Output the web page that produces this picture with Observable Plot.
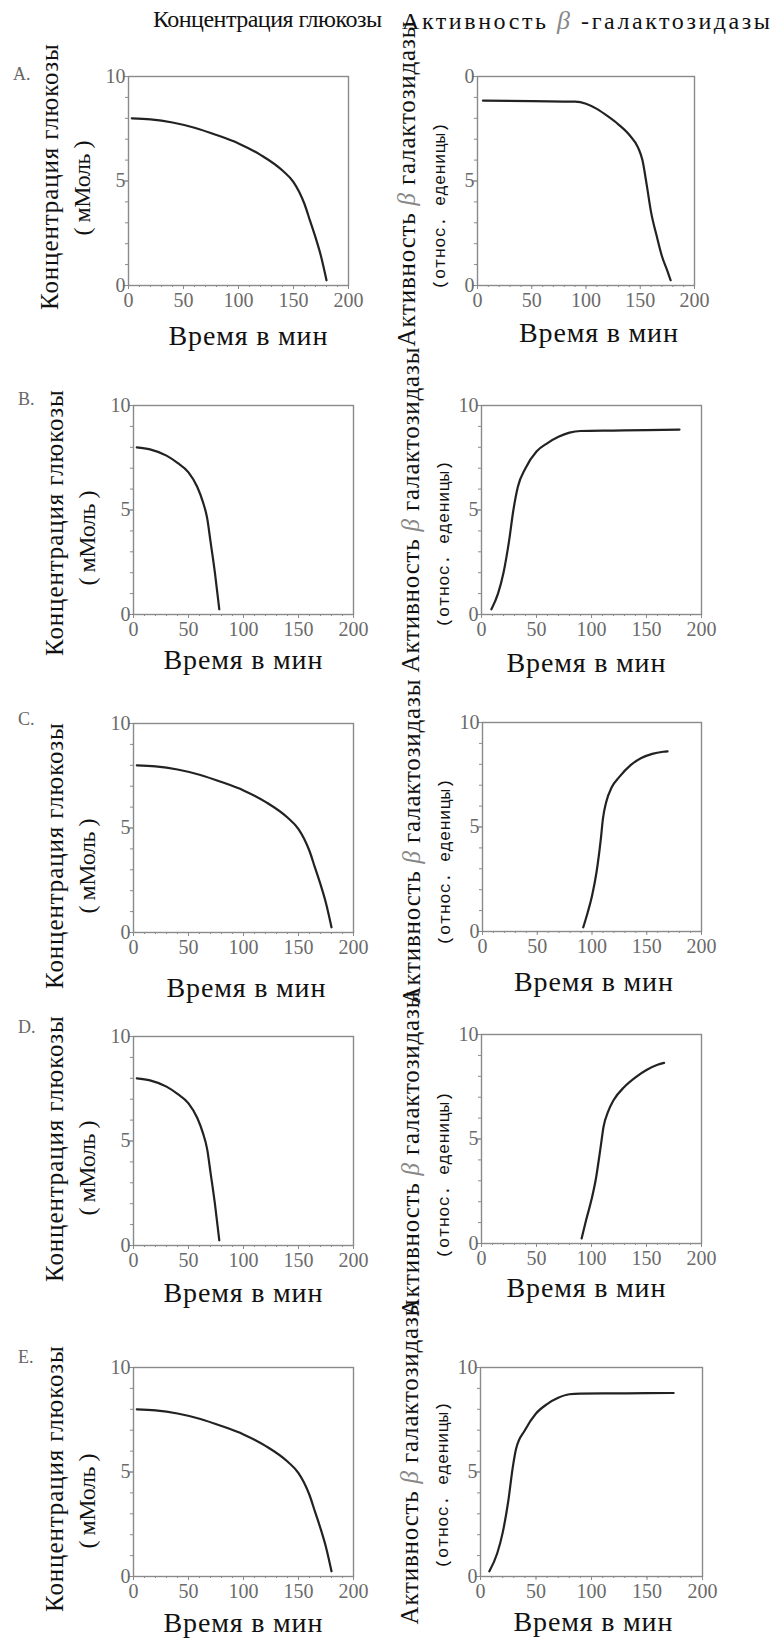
<!DOCTYPE html>
<html><head><meta charset="utf-8">
<script src="https://cdn.jsdelivr.net/npm/d3@7"></script>
<script src="https://cdn.jsdelivr.net/npm/@observablehq/plot@0.6"></script>
<style>
body{margin:0;background:#fff;}
#root{position:relative;width:782px;height:1638px;overflow:hidden;font-family:"Liberation Serif",serif;color:#111;}
.abs{position:absolute;white-space:nowrap;line-height:1.2;}
.hdr{font-size:24px;}
.row{font-size:18px;color:#666;}
.lab{position:absolute;white-space:nowrap;line-height:1;font-family:"Liberation Serif",serif;color:#111;}
.lab.mono{font-family:"Liberation Mono",monospace;}
.beta{font-style:italic;color:#888;}
</style></head><body><div id="root"></div>
<script>
// ---------- data ----------
const columnTitles = ["Концентрация глюкозы", "Активность β -галактозидазы"];
const rowLabels = ["A.", "B.", "C.", "D.", "E."];
const xLabel = "Время в мин";
const yLabelGlucose = ["Концентрация глюкозы", "( мМоль )"];
const yLabelActivity = ["Активность β галактозидазы", "(относ. еденицы)"];
const xTicks = [0, 50, 100, 150, 200];
const yTicks = [0, 5, 10];

// glucose concentration (mM) vs time (min)
const glucoseSlowT = [3, 20, 40, 60, 80, 100, 120, 140, 150, 155, 160, 165, 170, 175, 180];
const glucoseSlowY = [8.0, 7.95, 7.8, 7.55, 7.2, 6.8, 6.25, 5.5, 4.95, 4.5, 3.9, 3.1, 2.3, 1.4, 0.25];
const glucoseFastT = [3, 15, 30, 40, 50, 58, 63, 67, 70, 74, 78];
const glucoseFastY = [8.0, 7.9, 7.6, 7.25, 6.8, 6.1, 5.4, 4.6, 3.5, 2.0, 0.25];

// beta-galactosidase activity (rel. units) vs time (min)
const activityDeclineT = [5, 50, 90, 100, 110, 120, 130, 140, 148, 152, 156, 160, 165, 170, 175, 178];
const activityDeclineY = [8.85, 8.82, 8.8, 8.7, 8.45, 8.1, 7.7, 7.2, 6.6, 6.0, 4.8, 3.5, 2.4, 1.4, 0.7, 0.25];
const activityEarlyT = [9, 15, 20, 25, 29, 33, 40, 50, 60, 70, 80, 90, 120, 150, 180];
const activityEarlyY = [0.25, 1.0, 2.0, 3.5, 5.0, 6.1, 7.0, 7.8, 8.2, 8.5, 8.7, 8.78, 8.8, 8.82, 8.85];
const activityEarlyET = [8, 15, 20, 25, 29, 32, 40, 50, 60, 70, 80, 90, 120, 150, 174];
const activityEarlyEY = [0.25, 1.1, 2.1, 3.6, 5.2, 6.1, 7.0, 7.8, 8.25, 8.55, 8.72, 8.75, 8.76, 8.77, 8.78];
const activityLateT = [92, 96, 100, 104, 108, 110, 113, 118, 125, 135, 145, 155, 165, 169];
const activityLateY = [0.2, 0.9, 1.7, 2.8, 4.4, 5.4, 6.2, 6.9, 7.4, 7.95, 8.3, 8.5, 8.6, 8.62];
const activityLateDT = [91, 95, 100, 104, 108, 111, 115, 120, 130, 140, 150, 160, 166];
const activityLateDY = [0.24, 1.1, 2.1, 3.1, 4.5, 5.6, 6.3, 6.85, 7.5, 7.95, 8.3, 8.55, 8.64];

// ---------- layout ----------
const panels = [
  {row: 0, col: 0, t: glucoseSlowT, v: glucoseSlowY, fx: [128, 348], fy: [76, 285], xl: [10, 51], yl: [-4, 7]},
  {row: 0, col: 1, t: activityDeclineT, v: activityDeclineY, fx: [477, 694], fy: [76, 285], xl: [13, 48], yl: [3, 25], topZero: true},
  {row: 1, col: 0, t: glucoseFastT, v: glucoseFastY, fx: [133, 353], fy: [405, 614], xl: [0, 46], yl: [13, 28]},
  {row: 1, col: 1, t: activityEarlyT, v: activityEarlyY, fx: [481, 701], fy: [405, 614], xl: [-5, 49], yl: [0, 34]},
  {row: 2, col: 0, t: glucoseSlowT, v: glucoseSlowY, fx: [133, 353], fy: [723, 932], xl: [3, 56], yl: [28, 38]},
  {row: 2, col: 1, t: activityLateT, v: activityLateY, fx: [482, 701], fy: [722, 931], xl: [2, 51], yl: [15, 35]},
  {row: 3, col: 0, t: glucoseFastT, v: glucoseFastY, fx: [133, 353], fy: [1036, 1245], xl: [0, 48], yl: [8, 27]},
  {row: 3, col: 1, t: activityLateDT, v: activityLateDY, fx: [481, 701], fy: [1034, 1243], xl: [-5, 45], yl: [15, 36]},
  {row: 4, col: 0, t: glucoseSlowT, v: glucoseSlowY, fx: [133, 353], fy: [1367, 1576], xl: [0, 47], yl: [7, 29]},
  {row: 4, col: 1, t: activityEarlyET, v: activityEarlyEY, fx: [480, 702], fy: [1367, 1576], xl: [2, 46], yl: [-10, 13]}
];
const rowLabelPos = [[13, 75], [18, 400], [18, 720], [18, 1028], [18, 1358]];

const root = document.getElementById("root");

function fitHtml(el, target) {
  const w = el.getBoundingClientRect().width;
  const n = el.textContent.length - 1;
  el.style.letterSpacing = ((target - w) / n) + "px";
}

function withBeta(s) {
  const parts = s.split("β");
  return parts.length > 1 ? parts[0] + '<span class="beta">β</span>' + parts[1] : s;
}

// label centred at (cx, cy), optionally rotated, stretched to a given length
function addLabel(text, cx, cy, fontSize, len, rotated, mono) {
  const el = document.createElement("div");
  el.className = "lab" + (mono ? " mono" : "");
  el.style.fontSize = fontSize + "px";
  el.innerHTML = withBeta(text);
  root.appendChild(el);
  const w = el.offsetWidth;
  const n = el.textContent.length;
  const ls = (len - w) / n;
  el.style.letterSpacing = ls + "px";
  el.style.left = cx + "px";
  el.style.top = cy + "px";
  el.style.transformOrigin = "0 0";
  el.style.transform = (rotated ? "rotate(-90deg) " : "") + "translate(-50%, -50%) translateX(" + (ls / 2) + "px)";
  return el;
}

// column titles
const h1 = document.createElement("div");
h1.className = "abs hdr"; h1.style.left = "153px"; h1.style.top = "5px";
h1.textContent = columnTitles[0];
root.appendChild(h1);
fitHtml(h1, 229);
const h2 = document.createElement("div");
h2.className = "abs hdr"; h2.style.left = "402px"; h2.style.top = "5px";
const hp = columnTitles[1].split("β");
h2.innerHTML = hp[0] + '<i style="color:#888;font-size:26px">β</i>' + hp[1];
root.appendChild(h2);
fitHtml(h2, 368);

// row labels
rowLabels.forEach((lab, i) => {
  const d = document.createElement("div");
  d.className = "abs row";
  d.style.left = rowLabelPos[i][0] + "px";
  d.style.top = (rowLabelPos[i][1] - 11) + "px";
  d.textContent = lab;
  root.appendChild(d);
});

const gray = "#8a8a8a";
const tickText = "#6a6a6a";
const serif = "Liberation Serif";

panels.forEach(p => {
  const left = p.col === 0 ? 0 : 391;
  const width = 391;
  const mL = p.fx[0] - left, mR = left + width - p.fx[1];
  const mT = 30, mB = 40;
  const height = p.fy[1] - p.fy[0] + mT + mB;
  const data = p.t.map((t, i) => ({t, v: p.v[i]}));
  const chart = Plot.plot({
    width, height,
    marginLeft: mL, marginRight: mR, marginTop: mT, marginBottom: mB,
    style: {fontFamily: "Liberation Serif, serif", background: "transparent", overflow: "visible"},
    x: {domain: [0, 200]},
    y: {domain: [0, 10]},
    marks: [
      Plot.axisY({ticks: d3.range(0, 11), tickSize: 3, tickFormat: () => "", stroke: gray, label: null}),
      Plot.axisY({ticks: yTicks, tickSize: 5, tickPadding: -2, fontSize: 20, fontFamily: serif, fill: tickText, stroke: gray, label: null,
        tickFormat: d => (p.topZero && d === 10) ? "0" : String(d)}),
      Plot.axisX({ticks: d3.range(0, 201, 10), tickSize: 2, tickFormat: () => "", stroke: gray, label: null}),
      Plot.axisX({ticks: xTicks, tickSize: 4, tickPadding: 3, fontSize: 20, fontFamily: serif, fill: tickText, stroke: gray, label: null}),
      Plot.frame({stroke: gray, strokeWidth: 1.4}),
      Plot.line(data, {x: "t", y: "v", curve: "monotone-x", stroke: "#222", strokeWidth: 2.2})
    ]
  });
  chart.style.position = "absolute";
  chart.style.left = left + "px";
  chart.style.top = (p.fy[0] - mT) + "px";
  root.appendChild(chart);

  // axis titles
  const cxFrame = (p.fx[0] + p.fx[1]) / 2;
  const cyFrame = (p.fy[0] + p.fy[1]) / 2;
  addLabel(xLabel, cxFrame + p.xl[0], p.fy[1] + p.xl[1], 28, 160, false, false);
  const ylab = p.col === 0 ? yLabelGlucose : yLabelActivity;
  const l1dx = p.col === 0 ? -79 : -71;
  const l2dx = p.col === 0 ? -46 : -37;
  addLabel(ylab[0], p.fx[0] + l1dx, cyFrame + p.yl[0], 25, p.col === 0 ? 267 : 326, true, false);
  addLabel(ylab[1], p.fx[0] + l2dx, cyFrame + p.yl[1], p.col === 0 ? 24 : 17, p.col === 0 ? 95 : 167, true, p.col === 1);
});
</script>
</body></html>
